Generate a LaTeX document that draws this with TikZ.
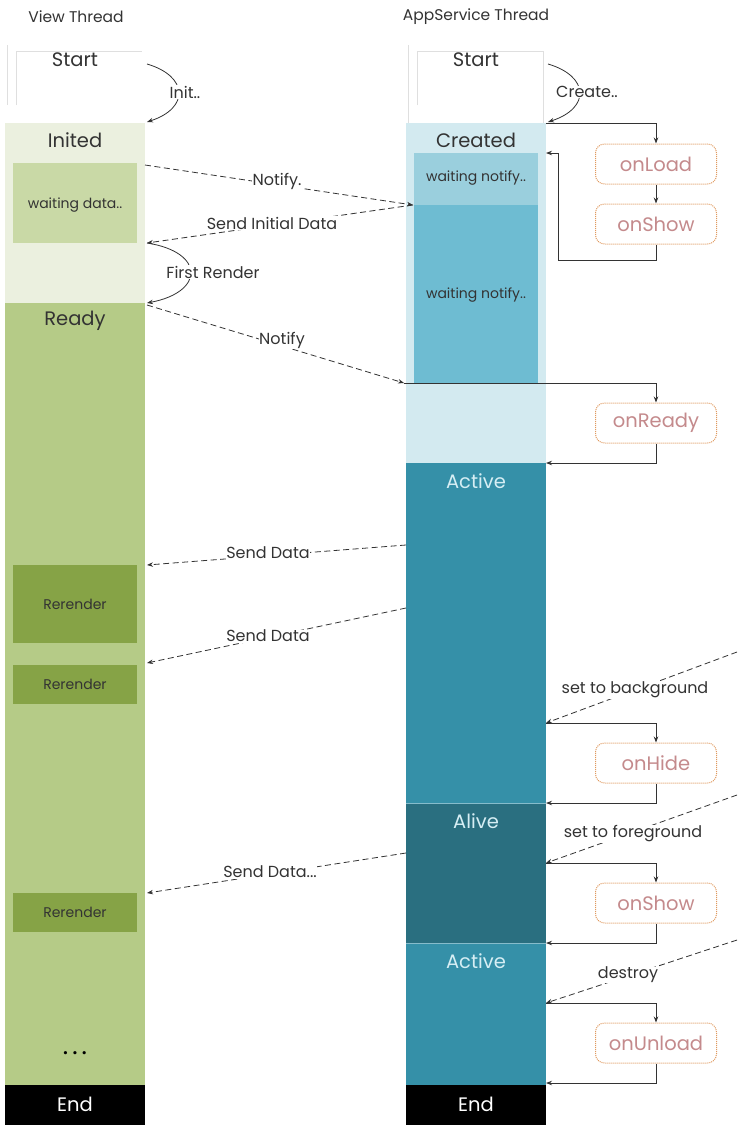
\documentclass[tikz,border=0pt]{standalone}
\usepackage{fontspec}
\setmainfont{Poppins}
\usetikzlibrary{arrows.meta}
\definecolor{txt}{HTML}{333333}
\definecolor{initedc}{HTML}{EBF0DF}
\definecolor{waitdc}{HTML}{C9D9A6}
\definecolor{readyc}{HTML}{B5CB87}
\definecolor{rerenc}{HTML}{86A346}
\definecolor{createdc}{HTML}{D3EAF0}
\definecolor{waitn1}{HTML}{9ACFDD}
\definecolor{waitn2}{HTML}{6EBCD2}
\definecolor{activec}{HTML}{3590A8}
\definecolor{alivec}{HTML}{2A6F80}
\definecolor{activet}{HTML}{D6EEF4}
\definecolor{lifet}{HTML}{C48A8C}
\definecolor{lifeb}{HTML}{E0995F}
\begin{document}
\begin{tikzpicture}[x=1pt,y=-1pt,
  band/.style={rectangle,draw=none,anchor=north west,minimum width=140pt,inner sep=0pt,outer sep=0pt},
  inbox/.style={rectangle,draw=none,anchor=north west,minimum width=124pt,inner sep=0pt,outer sep=0pt},
  head/.style={font=\fontsize{15.5}{17}\selectfont,text=txt},
  title/.style={font=\fontsize{19.5}{22}\selectfont,text=txt},
  small/.style={font=\fontsize{14}{16}\selectfont,text=txt},
  lbl/.style={font=\fontsize{16}{18}\selectfont,text=txt,fill=white,inner sep=0.5pt},
  life/.style={rectangle,rounded corners=9pt,draw=lifeb,densely dotted,line width=1pt,minimum width=121pt,minimum height=40pt,text=lifet,font=\fontsize{19.5}{22}\selectfont},
  conn/.style={draw=txt,line width=0.8pt,-{Stealth[length=6pt,width=4.5pt]}},
  msg/.style={draw=txt,line width=0.8pt,dash pattern=on 6pt off 3.5pt,-{Stealth[length=6pt,width=4.5pt]}},
  curv/.style={draw=txt,line width=0.8pt,-{Stealth[length=6pt,width=4.5pt]}}
]
\useasboundingbox (0,0) rectangle (737,1128);
\fill[white] (0,0) rectangle (737,1128);

% headers
\node[head] (hv) at (76,17) {View Thread};
\node[head] (ha) at (476,17) {AppService Thread};

% Start boxes (faint outlines)
\draw[gray!25,line width=0.6pt] (7,45) -- (7,105);
\draw[gray!25,line width=0.6pt] (16,105) -- (16,51) -- (142,51);
\draw[gray!25,line width=0.6pt] (408,45) -- (408,123);
\draw[gray!25,line width=0.6pt] (417,105) -- (417,51) -- (543,51) -- (543,123);

% left column
\node[band,fill=initedc,minimum height=180pt] (inited) at (5,123) {};
\node[inbox,fill=waitdc,minimum height=80pt] (waitd) at (13,163) {};
\node[band,fill=readyc,minimum height=782pt] (ready) at (5,303) {};
\node[inbox,fill=rerenc,minimum height=78pt] (rr1) at (13,565) {};
\node[inbox,fill=rerenc,minimum height=39pt] (rr2) at (13,665) {};
\node[inbox,fill=rerenc,minimum height=39pt] (rr3) at (13,893) {};
\node[band,fill=black,minimum height=40pt] (endl) at (5,1085) {};

\node[title] (tstartl) at (75,60) {Start};
\node[title] (tinited) at (75,140) {Inited};
\node[small] (twaitd) at (75,205) {waiting data..};
\node[title] (tready) at (75,321) {Ready};
\node[small] (trr1) at (75,604) {Rerender};
\node[small] (trr2) at (75,684) {Rerender};
\node[small] (trr3) at (75,912) {Rerender};
\node[font=\fontsize{13}{15}\selectfont,text=black] (tdots) at (75,1055) {\textbullet\hspace{4pt}\textbullet\hspace{4pt}\textbullet};
\node[title,text=white] (tendl) at (75,1104) {End};

% right column
\node[band,fill=createdc,minimum height=340pt] (created) at (406,123) {};
\node[inbox,fill=waitn1,minimum height=52pt] (wn1) at (414,153) {};
\node[inbox,fill=waitn2,minimum height=178pt] (wn2) at (414,205) {};
\node[band,fill=activec,minimum height=340pt] (active1) at (406,463) {};
\node[band,fill=alivec,minimum height=140pt] (alive) at (406,803) {};
\node[band,fill=activec,minimum height=142pt] (active2) at (406,943) {};
\node[band,fill=black,minimum height=40pt] (endr) at (406,1085) {};
\draw[activec!60!white,line width=0.6pt] (alive.north west) -- (alive.north east);
\draw[activec!60!white,line width=0.6pt] (active2.north west) -- (active2.north east);

\node[title] (tstartr) at (476,60) {Start};
\node[title] (tcreated) at (476,140) {Created};
\node[small] (twn1) at (476,178) {waiting notify..};
\node[small] (twn2) at (476,295) {waiting notify..};
\node[title,text=activet] (tact1) at (476,481) {Active};
\node[title,text=activet] (talive) at (476,821) {Alive};
\node[title,text=activet] (tact2) at (476,961) {Active};
\node[title,text=white] (tendr) at (476,1104) {End};

% lifecycle boxes
\node[life] (onload) at (656,164) {onLoad};
\node[life] (onshow1) at (656,224) {onShow};
\node[life] (onready) at (656,423) {onReady};
\node[life] (onhide) at (656,763) {onHide};
\node[life] (onshow2) at (656,903) {onShow};
\node[life] (onunload) at (656,1043) {onUnload};

% coordinates
\coordinate (cr0) at (546,123);
\coordinate (cwn) at (546,153);
\coordinate (cnotify) at (404,383);
\coordinate (cact) at (546,463);
\coordinate (chide) at (546,723);
\coordinate (calive) at (546,803);
\coordinate (cshow) at (546,863);
\coordinate (cact2) at (546,943);
\coordinate (cdes) at (546,1003);
\coordinate (cend) at (546,1083);
\coordinate (bg0) at (737,652);
\coordinate (fg0) at (737,795);
\coordinate (de0) at (737,940);

% solid connectors
\draw[conn] (cr0) -| (onload.north);
\draw[conn] (onload.south) -- (onshow1.north);
\draw[conn] (onshow1.south) -- (656,260) -- (558,260) -- (558,153) -- (cwn);
\draw[conn] (cnotify) -| (onready.north);
\draw[conn] (onready.south) |- (cact);
\draw[conn] (chide) -| (onhide.north);
\draw[conn] (onhide.south) |- (calive);
\draw[conn] (cshow) -| (onshow2.north);
\draw[conn] (onshow2.south) |- (cact2);
\draw[conn] (cdes) -| (onunload.north);
\draw[conn] (onunload.south) |- (cend);

% curved arrows
\draw[curv] (147,64) .. controls (188,76) and (190,108) .. (147,122);
\node[lbl] (linit) at (185,92) {Init..};
\draw[curv] (548,64) .. controls (589,76) and (591,108) .. (548,122);
\node[lbl] (lcreate) at (587,92) {Create..};
\draw[curv] (147,243) .. controls (205,252) and (205,292) .. (147,303);
\node[lbl] (lfirst) at (213,272) {First Render};

% dashed messages
\coordinate (d1a) at (145,165);
\coordinate (d1b) at (413,205);
\draw[msg] (d1a) -- (d1b);
\node[lbl] (lnotify1) at (277,181) {Notify.};
\coordinate (d2b) at (147,243);
\draw[msg] (d1b) -- (d2b);
\node[lbl] (lsid) at (272,223) {Send Initial Data};
\coordinate (d3a) at (147,305);
\draw[msg] (d3a) -- (cnotify);
\node[lbl] (lnotify2) at (282,340) {Notify};
\coordinate (d4a) at (406,545);
\coordinate (d4b) at (147,565);
\draw[msg] (d4a) -- (d4b);
\node[lbl] (lsd1) at (268,553) {Send Data};
\coordinate (d5a) at (406,608);
\coordinate (d5b) at (147,663);
\draw[msg] (d5a) -- (d5b);
\node[lbl] (lsd2) at (268,636) {Send Data};
\coordinate (d6a) at (406,853);
\coordinate (d6b) at (147,893);
\draw[msg] (d6a) -- (d6b);
\node[lbl] (lsd3) at (270,872) {Send Data...};
\draw[msg] (bg0) -- (chide);
\node[lbl] (lbg) at (635,690) {set to background};
\draw[msg] (fg0) -- (cshow);
\node[lbl] (lfg) at (633,834) {set to foreground};
\draw[msg] (de0) -- (cdes);
\node[lbl] (ldes) at (628,975) {destroy};
\end{tikzpicture}
\end{document}
